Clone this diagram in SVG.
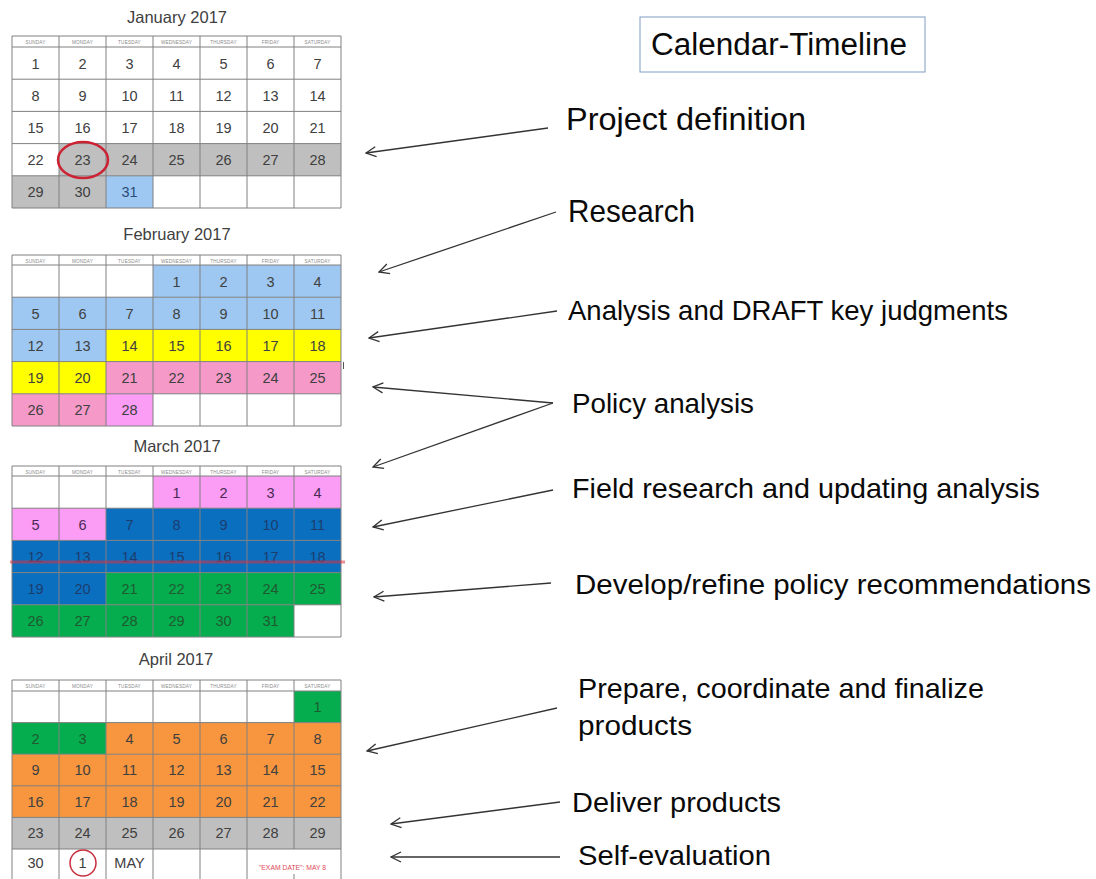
<svg xmlns="http://www.w3.org/2000/svg" width="1096" height="879" viewBox="0 0 1096 879">
<defs>
<style>
.g{fill:none;stroke:#808080;stroke-width:1}
.n{font-family:"Liberation Sans",Arial,sans-serif;font-size:14.5px;fill:#404040;text-anchor:middle}
.nb{fill:#1c3d6e}
.ng{fill:#1f5a30}
.h{font-family:"Liberation Sans",Arial,sans-serif;font-size:4.6px;fill:#8a8a8a;text-anchor:middle;letter-spacing:0.2px}
.t{font-family:"Liberation Sans",Arial,sans-serif;font-size:16.5px;fill:#404040;text-anchor:middle}
.lbl{font-family:"Liberation Sans",Arial,sans-serif;fill:#0a0a0a}
.arr{fill:none;stroke:#333333;stroke-width:1.3;marker-end:url(#ah)}
.gray{fill:#bfbfbf}.lb{fill:#9ec8f2}.yel{fill:#ffff00}.pink{fill:#f59ac8}.vio{fill:#fb9cf5}.blue{fill:#0b6fc0}.grn{fill:#05ad4f}.org{fill:#f7963e}
</style>
<marker id="ah" viewBox="0 0 12 12" refX="11" refY="6" markerWidth="12" markerHeight="12" markerUnits="userSpaceOnUse" orient="auto">
<path d="M1,1 L11,6 L1,11" fill="none" stroke="#333333" stroke-width="1.3"/>
</marker>
</defs>
<rect width="1096" height="879" fill="#ffffff"/>

<g id="jan">
<text class="t" x="177" y="23">January 2017</text>
<rect class="gray" x="59" y="143.6" width="282" height="32.2"/>
<rect class="gray" x="12" y="175.8" width="94" height="32.2"/>
<rect class="lb" x="106" y="175.8" width="47" height="32.2"/>
<path class="g" d="M12,36H341M12,47H341M12,79.2H341M12,111.4H341M12,143.6H341M12,175.8H341M12,208H341M12,36V208M59,36V208M106,36V208M153,36V208M200,36V208M247,36V208M294,36V208M341,36V208"/>
<g class="h"><text x="35.5" y="43.5">SUNDAY</text><text x="82.5" y="43.5">MONDAY</text><text x="129.5" y="43.5">TUESDAY</text><text x="176.5" y="43.5">WEDNESDAY</text><text x="223.5" y="43.5">THURSDAY</text><text x="270.5" y="43.5">FRIDAY</text><text x="317.5" y="43.5">SATURDAY</text></g>
<g class="n">
<text x="35.5" y="68.5">1</text><text x="82.5" y="68.5">2</text><text x="129.5" y="68.5">3</text><text x="176.5" y="68.5">4</text><text x="223.5" y="68.5">5</text><text x="270.5" y="68.5">6</text><text x="317.5" y="68.5">7</text>
<text x="35.5" y="100.7">8</text><text x="82.5" y="100.7">9</text><text x="129.5" y="100.7">10</text><text x="176.5" y="100.7">11</text><text x="223.5" y="100.7">12</text><text x="270.5" y="100.7">13</text><text x="317.5" y="100.7">14</text>
<text x="35.5" y="132.9">15</text><text x="82.5" y="132.9">16</text><text x="129.5" y="132.9">17</text><text x="176.5" y="132.9">18</text><text x="223.5" y="132.9">19</text><text x="270.5" y="132.9">20</text><text x="317.5" y="132.9">21</text>
<text x="35.5" y="165.1">22</text><text x="82.5" y="165.1">23</text><text x="129.5" y="165.1">24</text><text x="176.5" y="165.1">25</text><text x="223.5" y="165.1">26</text><text x="270.5" y="165.1">27</text><text x="317.5" y="165.1">28</text>
<text x="35.5" y="197.3">29</text><text x="82.5" y="197.3">30</text><text x="129.5" y="197.3" fill="#2a4a78">31</text>
</g>
<ellipse cx="83" cy="160" rx="25" ry="18" fill="none" stroke="#cc2233" stroke-width="2.5"/>
</g>

<g id="feb">
<text class="t" x="177" y="240">February 2017</text>
<rect class="lb" x="153" y="265" width="188" height="32.2"/>
<rect class="lb" x="12" y="297.2" width="329" height="32.2"/>
<rect class="lb" x="12" y="329.4" width="94" height="32.2"/>
<rect class="yel" x="106" y="329.4" width="235" height="32.2"/>
<rect class="yel" x="12" y="361.6" width="94" height="32.2"/>
<rect class="pink" x="106" y="361.6" width="235" height="32.2"/>
<rect class="pink" x="12" y="393.8" width="94" height="32.2"/>
<rect class="vio" x="106" y="393.8" width="47" height="32.2"/>
<path class="g" d="M12,255H341M12,265H341M12,297.2H341M12,329.4H341M12,361.6H341M12,393.8H341M12,426H341M12,255V426M59,255V426M106,255V426M153,255V426M200,255V426M247,255V426M294,255V426M341,255V426"/>
<path d="M343.5,362V369" stroke="#555555" stroke-width="1"/>
<g class="h"><text x="35.5" y="262.5">SUNDAY</text><text x="82.5" y="262.5">MONDAY</text><text x="129.5" y="262.5">TUESDAY</text><text x="176.5" y="262.5">WEDNESDAY</text><text x="223.5" y="262.5">THURSDAY</text><text x="270.5" y="262.5">FRIDAY</text><text x="317.5" y="262.5">SATURDAY</text></g>
<g class="n">
<text x="176.5" y="286.5">1</text><text x="223.5" y="286.5">2</text><text x="270.5" y="286.5">3</text><text x="317.5" y="286.5">4</text>
<text x="35.5" y="318.7">5</text><text x="82.5" y="318.7">6</text><text x="129.5" y="318.7">7</text><text x="176.5" y="318.7">8</text><text x="223.5" y="318.7">9</text><text x="270.5" y="318.7">10</text><text x="317.5" y="318.7">11</text>
<text x="35.5" y="350.9">12</text><text x="82.5" y="350.9">13</text><text x="129.5" y="350.9">14</text><text x="176.5" y="350.9">15</text><text x="223.5" y="350.9">16</text><text x="270.5" y="350.9">17</text><text x="317.5" y="350.9">18</text>
<text x="35.5" y="383.1">19</text><text x="82.5" y="383.1">20</text><text x="129.5" y="383.1">21</text><text x="176.5" y="383.1">22</text><text x="223.5" y="383.1">23</text><text x="270.5" y="383.1">24</text><text x="317.5" y="383.1">25</text>
<text x="35.5" y="415.3">26</text><text x="82.5" y="415.3">27</text><text x="129.5" y="415.3">28</text>
</g>
</g>

<g id="mar">
<text class="t" x="177" y="452">March 2017</text>
<rect class="vio" x="153" y="476" width="188" height="32.2"/>
<rect class="vio" x="12" y="508.2" width="94" height="32.2"/>
<rect class="blue" x="106" y="508.2" width="235" height="32.2"/>
<rect class="blue" x="12" y="540.4" width="329" height="32.2"/>
<rect class="blue" x="12" y="572.6" width="94" height="32.2"/>
<rect class="grn" x="106" y="572.6" width="235" height="32.2"/>
<rect class="grn" x="12" y="604.8" width="282" height="32.2"/>
<path class="g" d="M12,466H341M12,476H341M12,508.2H341M12,540.4H341M12,572.6H341M12,604.8H341M12,637H341M12,466V637M59,466V637M106,466V637M153,466V637M200,466V637M247,466V637M294,466V637M341,466V637"/>
<g class="h"><text x="35.5" y="473.5">SUNDAY</text><text x="82.5" y="473.5">MONDAY</text><text x="129.5" y="473.5">TUESDAY</text><text x="176.5" y="473.5">WEDNESDAY</text><text x="223.5" y="473.5">THURSDAY</text><text x="270.5" y="473.5">FRIDAY</text><text x="317.5" y="473.5">SATURDAY</text></g>
<g class="n">
<text x="176.5" y="497.5" fill="#4a2a55">1</text><text x="223.5" y="497.5" fill="#4a2a55">2</text><text x="270.5" y="497.5" fill="#4a2a55">3</text><text x="317.5" y="497.5" fill="#4a2a55">4</text>
<text x="35.5" y="529.7" fill="#4a2a55">5</text><text x="82.5" y="529.7" fill="#4a2a55">6</text>
<text class="nb" x="129.5" y="529.7">7</text><text class="nb" x="176.5" y="529.7">8</text><text class="nb" x="223.5" y="529.7">9</text><text class="nb" x="270.5" y="529.7">10</text><text class="nb" x="317.5" y="529.7">11</text>
<text class="nb" x="35.5" y="561.9">12</text><text class="nb" x="82.5" y="561.9">13</text><text class="nb" x="129.5" y="561.9">14</text><text class="nb" x="176.5" y="561.9">15</text><text class="nb" x="223.5" y="561.9">16</text><text class="nb" x="270.5" y="561.9">17</text><text class="nb" x="317.5" y="561.9">18</text>
<text class="nb" x="35.5" y="594.1">19</text><text class="nb" x="82.5" y="594.1">20</text><text class="ng" x="129.5" y="594.1">21</text><text class="ng" x="176.5" y="594.1">22</text><text class="ng" x="223.5" y="594.1">23</text><text class="ng" x="270.5" y="594.1">24</text><text class="ng" x="317.5" y="594.1">25</text>
<text class="ng" x="35.5" y="626.3">26</text><text class="ng" x="82.5" y="626.3">27</text><text class="ng" x="129.5" y="626.3">28</text><text class="ng" x="176.5" y="626.3">29</text><text class="ng" x="223.5" y="626.3">30</text><text class="ng" x="270.5" y="626.3">31</text>
</g>
<path d="M10,562H345" stroke="#e03040" stroke-opacity="0.55" stroke-width="3"/>
</g>

<g id="apr">
<text class="t" x="176" y="665">April 2017</text>
<rect class="grn" x="294" y="691" width="47" height="31.6"/>
<rect class="grn" x="12" y="722.6" width="94" height="31.6"/>
<rect class="org" x="106" y="722.6" width="235" height="31.6"/>
<rect class="org" x="12" y="754.2" width="329" height="63.2"/>
<rect class="gray" x="12" y="817.4" width="329" height="31.6"/>
<path class="g" d="M12,680H341M12,691H341M12,722.6H341M12,754.2H341M12,785.8H341M12,817.4H341M12,849H341M12,680V880M59,680V880M106,680V880M153,680V880M200,680V880M247,680V880M294,680V849M294,874V880M341,680V880"/>
<g class="h"><text x="35.5" y="688">SUNDAY</text><text x="82.5" y="688">MONDAY</text><text x="129.5" y="688">TUESDAY</text><text x="176.5" y="688">WEDNESDAY</text><text x="223.5" y="688">THURSDAY</text><text x="270.5" y="688">FRIDAY</text><text x="317.5" y="688">SATURDAY</text></g>
<g class="n">
<text class="ng" x="317.5" y="712">1</text>
<text class="ng" x="35.5" y="743.6">2</text><text class="ng" x="82.5" y="743.6">3</text><text x="129.5" y="743.6">4</text><text x="176.5" y="743.6">5</text><text x="223.5" y="743.6">6</text><text x="270.5" y="743.6">7</text><text x="317.5" y="743.6">8</text>
<text x="35.5" y="775.2">9</text><text x="82.5" y="775.2">10</text><text x="129.5" y="775.2">11</text><text x="176.5" y="775.2">12</text><text x="223.5" y="775.2">13</text><text x="270.5" y="775.2">14</text><text x="317.5" y="775.2">15</text>
<text x="35.5" y="806.8">16</text><text x="82.5" y="806.8">17</text><text x="129.5" y="806.8">18</text><text x="176.5" y="806.8">19</text><text x="223.5" y="806.8">20</text><text x="270.5" y="806.8">21</text><text x="317.5" y="806.8">22</text>
<text x="35.5" y="838.4">23</text><text x="82.5" y="838.4">24</text><text x="129.5" y="838.4">25</text><text x="176.5" y="838.4">26</text><text x="223.5" y="838.4">27</text><text x="270.5" y="838.4">28</text><text x="317.5" y="838.4">29</text>
<text x="35.5" y="868">30</text><text x="82.5" y="868">1</text><text x="129.5" y="868">MAY</text>
</g>
<circle cx="83" cy="863" r="13" fill="none" stroke="#c83040" stroke-width="1.5"/>
<text x="292.5" y="870" font-family="Liberation Sans, Arial, sans-serif" font-size="6.8" fill="#e04858" text-anchor="middle">"EXAM DATE": MAY 8</text>
</g>

<g id="title">
<rect x="640" y="17" width="285" height="55" fill="#ffffff" stroke="#7f9cc0" stroke-width="1"/>
<text class="lbl" x="651" y="55" font-size="31" textLength="256" lengthAdjust="spacingAndGlyphs">Calendar-Timeline</text>
</g>

<g id="labels">
<g id="l-project"><text class="lbl" x="566" y="130" font-size="32" textLength="240" lengthAdjust="spacingAndGlyphs">Project definition</text></g>
<g id="l-research"><text class="lbl" x="568" y="222" font-size="30.5" textLength="127" lengthAdjust="spacingAndGlyphs">Research</text></g>
<g id="l-analysis"><text class="lbl" x="568" y="320" font-size="28" textLength="440" lengthAdjust="spacingAndGlyphs">Analysis and DRAFT key judgments</text></g>
<g id="l-policy"><text class="lbl" x="572" y="413" font-size="28" textLength="182" lengthAdjust="spacingAndGlyphs">Policy analysis</text></g>
<g id="l-field"><text class="lbl" x="572" y="498" font-size="28" textLength="468" lengthAdjust="spacingAndGlyphs">Field research and updating analysis</text></g>
<g id="l-develop"><text class="lbl" x="575" y="594" font-size="28" textLength="516" lengthAdjust="spacingAndGlyphs">Develop/refine policy recommendations</text></g>
<g id="l-prepare"><text class="lbl" x="578" y="698" font-size="28" textLength="406" lengthAdjust="spacingAndGlyphs">Prepare, coordinate and finalize</text><text class="lbl" x="578" y="735" font-size="28" textLength="114" lengthAdjust="spacingAndGlyphs">products</text></g>
<g id="l-deliver"><text class="lbl" x="572" y="812" font-size="28" textLength="209" lengthAdjust="spacingAndGlyphs">Deliver products</text></g>
<g id="l-self"><text class="lbl" x="578" y="865" font-size="28" textLength="193" lengthAdjust="spacingAndGlyphs">Self-evaluation</text></g>
</g>

<g id="connectors">
<path class="arr" d="M548,128L366,153"/>
<path class="arr" d="M556,212L379,272"/>
<path class="arr" d="M557,311L369,338"/>
<path class="arr" d="M553,403L373,387"/>
<path class="arr" d="M553,403L373,467"/>
<path class="arr" d="M553,490L373,527"/>
<path class="arr" d="M551,583L374,597"/>
<path class="arr" d="M557,708L367,751"/>
<path class="arr" d="M560,802L391,824"/>
<path class="arr" d="M560,857L391,857"/>
</g>
</svg>
